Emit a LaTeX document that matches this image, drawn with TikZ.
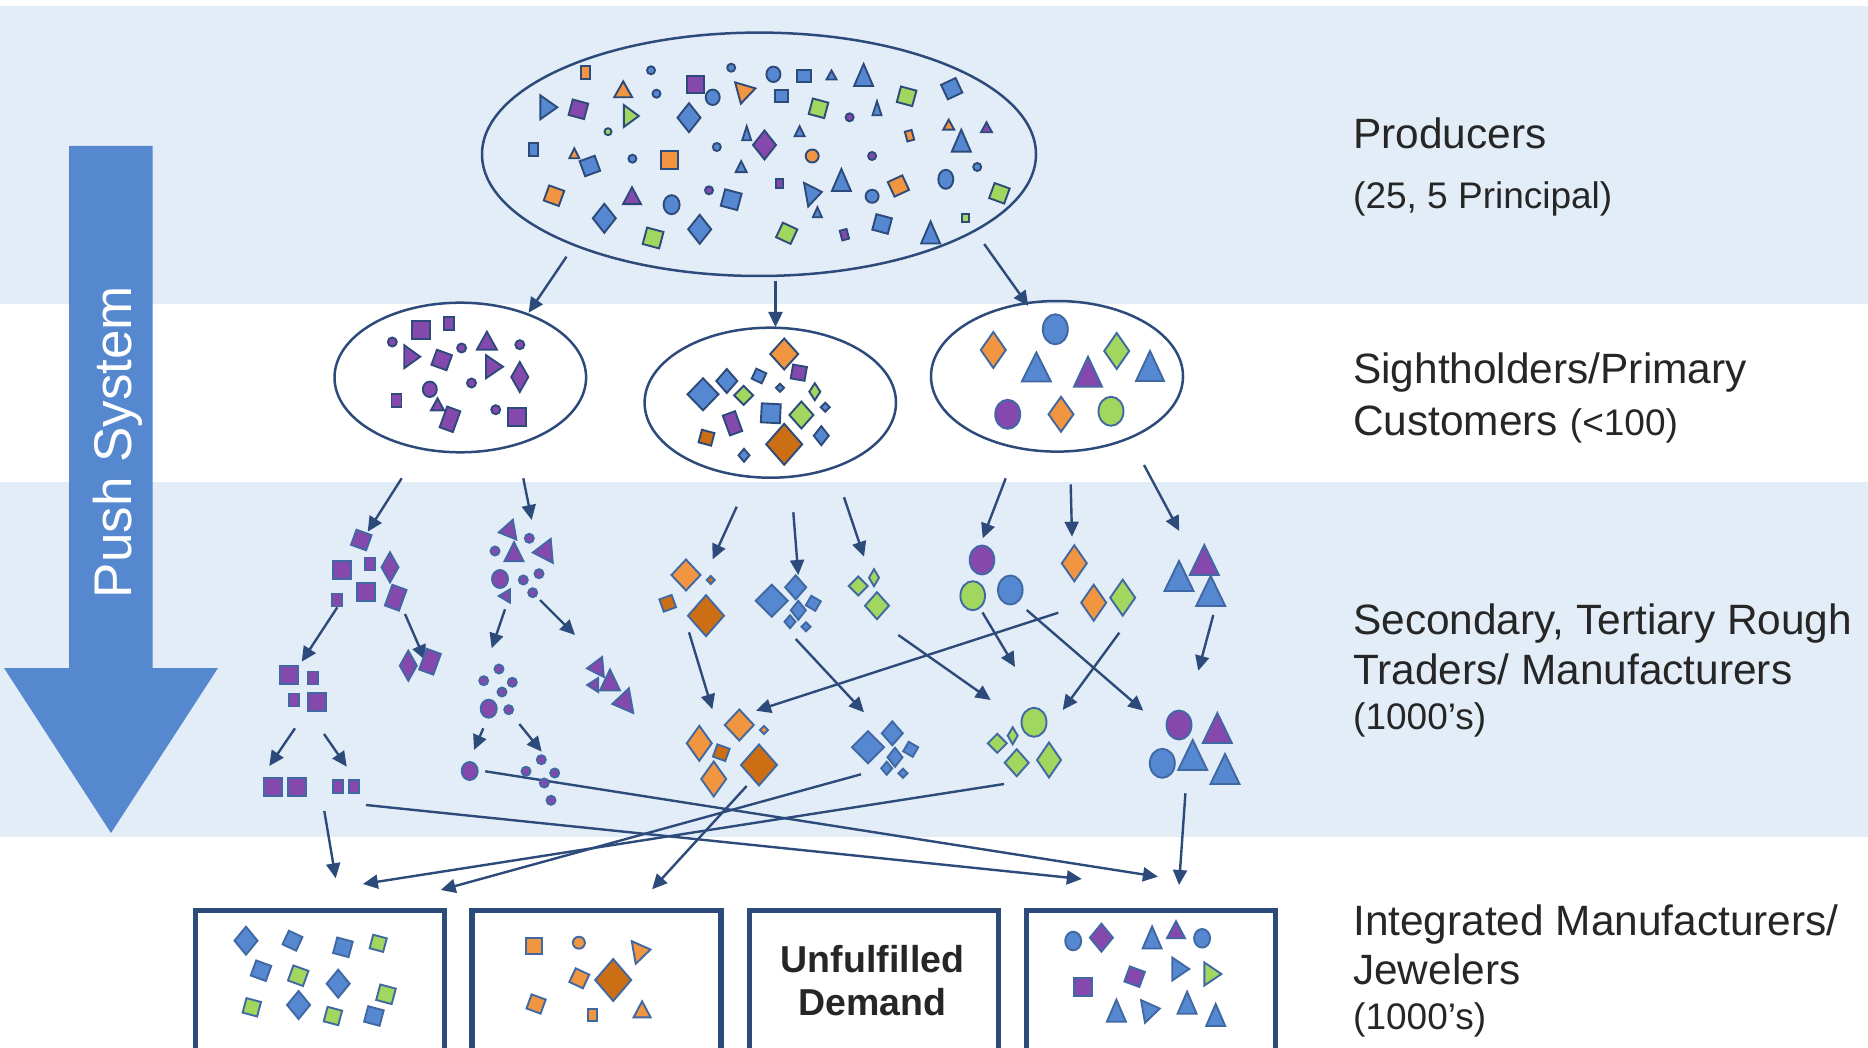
\documentclass[tikz,border=0pt]{standalone}
\usepackage{fontspec}
\setmainfont{Liberation Sans}
\usetikzlibrary{arrows.meta,shapes.geometric}
\definecolor{cNv}{HTML}{2D4B7A}
\definecolor{cOl}{HTML}{4068A2}
\definecolor{cB}{HTML}{5588D0}
\definecolor{cP}{HTML}{8548AD}
\definecolor{cO}{HTML}{F29541}
\definecolor{cD}{HTML}{CC6E14}
\definecolor{cG}{HTML}{A1D65F}
\definecolor{cBand}{HTML}{E3EDF8}
\definecolor{cPush}{HTML}{5588CF}
\definecolor{cTxt}{HTML}{262626}
\newcommand\shpSq[5]{\filldraw[shp,fill=#5,shift={(#1,#2)},rotate=#4] (-#3/2,-#3/2) -- (#3/2,-#3/2) -- (#3/2,#3/2) -- (-#3/2,#3/2) -- cycle;}
\newcommand\shpRc[6]{\filldraw[shp,fill=#6,shift={(#1,#2)},rotate=#5] (-#3/2,-#4/2) -- (#3/2,-#4/2) -- (#3/2,#4/2) -- (-#3/2,#4/2) -- cycle;}
\newcommand\shpDi[6]{\filldraw[shp,fill=#6,shift={(#1,#2)},rotate=#5] (0,-#4/2) -- (#3/2,0) -- (0,#4/2) -- (-#3/2,0) -- cycle;}
\newcommand\shpTr[6]{\filldraw[shp,fill=#6,shift={(#1,#2)},rotate=#5] (-#3/2,#4/2) -- (#3/2,#4/2) -- (0,-#4/2) -- cycle;}
\newcommand\shpCi[5]{\filldraw[shp,fill=#5] (#1,#2) ellipse [x radius=#3, y radius=#4];}
\newcommand\conn[3]{\coordinate (#1s) at (#2); \coordinate (#1e) at (#3); \draw[conn] (#1s) -- (#1e);}
\tikzset{
  shp/.style={draw=cOl, line width=1.9pt},
  conn/.style={draw=cNv, line width=2.4pt, -{Triangle[length=15pt,width=14pt]}},
  oval/.style={ellipse, draw=cNv, line width=2.5pt, inner sep=0pt},
  outbox/.style={rectangle, draw=cNv, line width=5.5pt, fill=white, inner sep=0pt, minimum width=249pt, minimum height=220pt},
  lbl/.style={anchor=base west, inner sep=0pt, text=cTxt, font=\fontsize{42.4}{50}\selectfont},
  lbls/.style={anchor=base west, inner sep=0pt, text=cTxt, font=\fontsize{37}{44}\selectfont},
}
\begin{document}
\begin{tikzpicture}[x=1pt,y=-1pt]
\useasboundingbox (0,0) rectangle (1868,1048);
\clip (0,0) rectangle (1868,1048);
\fill[white] (0,0) rectangle (1868,1048);
\fill[cBand] (0,6) rectangle (1868,304);
\fill[cBand] (0,482) rectangle (1868,837);

% push arrow
\fill[cPush] (69,146) -- (152.5,146) -- (152.5,668) -- (218,668) -- (111,833) -- (4,668) -- (69,668) -- cycle;
\node[rotate=90, anchor=base, inner sep=0pt, text=white, font=\fontsize{53}{60}\selectfont] (push) at (131,442) {Push System};

% ovals
\node[oval, minimum width=554pt, minimum height=243.4pt] (prod) at (759,154.3) {};
\node[oval, minimum width=251.6pt, minimum height=149.6pt] (sh1) at (460.3,377.5) {};
\node[oval, minimum width=251.4pt, minimum height=150pt] (sh2) at (770.3,402.7) {};
\node[oval, minimum width=252pt, minimum height=150.6pt] (sh3) at (1057,376.3) {};

% boxes
\node[outbox] (box1) at (319.75,1020.5) {};
\node[outbox] (box2) at (596.65,1020.5) {};
\node[outbox] (box3) at (873.75,1020.5) {};
\node[outbox] (box4) at (1150.9,1020.5) {};
\node[anchor=base, inner sep=0pt, text=cTxt, font=\bfseries\fontsize{37.5}{44}\selectfont] (unf1) at (872.5,972.5) {Unfulfilled};
\node[anchor=base, inner sep=0pt, text=cTxt, font=\bfseries\fontsize{37.5}{44}\selectfont] (unf2) at (872.5,1015) {Demand};

% labels
\node[lbl] (t1) at (1353,149) {Producers};
\node[lbls] (t2) at (1353,209) {(25, 5 Principal)};
\node[lbl] (t3) at (1353,384) {Sightholders/Primary};
\node[lbl] (t4) at (1353,435) {Customers {\fontsize{37}{44}\selectfont(<100)}};
\node[lbl] (t5) at (1353,634) {Secondary, Tertiary Rough};
\node[lbl] (t6) at (1353,684) {Traders/ Manufacturers};
\node[lbls] (t7) at (1353,729) {(1000's)};
\node[lbl] (t8) at (1353,935) {Integrated Manufacturers/};
\node[lbl] (t9) at (1353,984) {Jewelers};
\node[lbls] (t10) at (1353,1029) {(1000's)};

% connectors
\conn{c1}{566.5,256.7}{528.6,312.7}
\conn{c2}{775.5,281.5}{775.5,327}
\conn{c3}{984.2,244}{1028.3,306}
\conn{c4}{401.7,478.3}{367.7,531.7}
\conn{c5}{523.3,478.3}{531.7,520}
\conn{c6}{736.7,506.7}{712.7,559.3}
\conn{c7}{793.3,512.3}{798.3,575}
\conn{c8}{844,497.3}{864,556.7}
\conn{c9}{1005.7,478.3}{982.7,538.3}
\conn{c10}{1070.7,484.3}{1072,536.7}
\conn{c11}{1144,465}{1179.3,531}
\conn{c12}{337.3,607.3}{301.7,661.7}
\conn{c13}{405,614}{425,660}
\conn{c14}{295,728.3}{269.3,766}
\conn{c15}{324,734}{346.7,766.7}
\conn{c16}{505,609.3}{491.7,648.3}
\conn{c17}{540,600}{575,635}
\conn{c18}{483.3,728.3}{474,750}
\conn{c19}{519.3,724}{541.7,751.7}
\conn{c20}{689,632.3}{712.3,709.3}
\conn{c21}{795.7,639}{864,712.3}
\conn{c22}{898.3,635}{990.7,700}
\conn{c23}{1058.3,612.7}{756,710.7}
\conn{c24}{982.5,612.5}{1015,667}
\conn{c25}{1026.7,610}{1143.3,710.7}
\conn{c26}{1119.3,632.7}{1062.7,710}
\conn{c27}{1213.3,615}{1198.3,670.7}
\conn{c28}{324.3,811}{335.7,878.3}
\conn{c29}{1004,784}{362.9,884}
\conn{c30}{861,774.3}{440.7,890}
\conn{c31}{746.7,786}{652.1,889.3}
\conn{c32}{366,805}{1081.8,879}
\conn{c33}{485.3,771.3}{1157.9,876.7}
\conn{c34}{1185.4,793.3}{1179,885}

% producers shapes
\begin{scope}[shp/.style={draw=cNv, line width=1.9pt}]
\shpRc{585.4}{72.7}{9}{13}{0}{cO}
\shpCi{651}{70.3}{4}{4}{cB}
\shpCi{731.2}{67.7}{4}{4}{cB}
\shpCi{773.4}{74.3}{7}{7.7}{cB}
\shpRc{803.7}{75.7}{14}{12}{0}{cB}
\shpTr{831.5}{75}{10}{9}{0}{cB}
\shpTr{863.6}{75}{19}{22}{0}{cB}
\shpTr{623.2}{89.3}{18}{16}{0}{cO}
\shpCi{656.5}{93.7}{4}{4}{cB}
\shpSq{695.7}{84.7}{17}{0}{cP}
\shpCi{712.7}{97.3}{7}{7.7}{cB}
\shpTr{746.7}{90.7}{22}{18}{-75}{cO}
\shpRc{781.9}{95.7}{13}{12}{0}{cB}
\shpSq{906.6}{96.3}{16}{-15}{cG}
\shpSq{951.7}{88.7}{16}{25}{cB}
\shpTr{548.8}{107.3}{24}{17}{-90}{cB}
\shpSq{578.4}{109.3}{16}{-15}{cP}
\shpTr{631.3}{116}{22}{15}{-90}{cG}
\shpDi{689}{117.7}{23}{29}{0}{cB}
\shpSq{818.5}{108.3}{16}{-15}{cG}
\shpCi{849.6}{117.3}{4}{4}{cP}
\shpTr{877}{108.3}{9}{14}{0}{cB}
\shpCi{608}{131.7}{3.5}{3.5}{cG}
\shpTr{948.7}{124.7}{11}{10}{0}{cO}
\shpTr{986.5}{127.3}{11}{10}{0}{cP}
\shpRc{533.3}{149.7}{9}{13}{0}{cB}
\shpTr{574.3}{153.3}{10}{10}{0}{cO}
\shpSq{589.9}{166}{16}{20}{cB}
\shpCi{632.4}{158.7}{4}{4}{cB}
\shpRc{669.8}{160.3}{17}{18}{0}{cO}
\shpCi{716.8}{147}{4}{4}{cB}
\shpTr{746.7}{133.3}{9}{14}{0}{cB}
\shpDi{764.5}{145}{23}{29}{0}{cP}
\shpTr{799.6}{131.3}{10}{10}{0}{cB}
\shpRc{909.5}{135.7}{7}{10}{15}{cO}
\shpTr{961.3}{140.7}{19}{22}{0}{cB}
\shpTr{741.2}{166.7}{11}{11}{0}{cB}
\shpCi{812.2}{156}{6.5}{6.5}{cO}
\shpCi{872.1}{156}{4}{4}{cP}
\shpCi{977.2}{167}{4}{4}{cB}
\shpSq{554}{195.7}{16}{-20}{cO}
\shpTr{632}{195.7}{18}{17}{0}{cP}
\shpCi{671.6}{204.7}{8}{9.5}{cB}
\shpCi{709}{190.3}{4}{4}{cP}
\shpSq{731.2}{199.7}{17}{-15}{cB}
\shpRc{779.3}{183.7}{7}{9}{0}{cP}
\shpTr{814}{193.3}{24}{16}{-80}{cB}
\shpTr{841.4}{180}{19}{22}{0}{cB}
\shpCi{872.1}{196.3}{6.5}{6.5}{cB}
\shpSq{898.4}{186}{16}{25}{cO}
\shpCi{945.8}{179.3}{7.5}{9.5}{cB}
\shpSq{999.4}{193.3}{16}{-20}{cG}
\shpDi{604.3}{218.3}{23}{29}{0}{cB}
\shpSq{653.1}{238}{17}{-15}{cG}
\shpDi{699.7}{229.3}{23}{29}{0}{cB}
\shpSq{786.7}{233.3}{16}{-25}{cG}
\shpTr{817.4}{212.3}{9}{10}{0}{cB}
\shpRc{844.4}{234.7}{7}{10}{15}{cP}
\shpSq{882.1}{224}{16}{-15}{cB}
\shpTr{930.6}{232.5}{19}{22}{0}{cB}
\shpRc{965.4}{218}{7}{8}{0}{cG}

% sightholder 1
\shpSq{420.6}{330}{18}{0}{cP}
\shpRc{449}{323.7}{10}{13}{0}{cP}
\shpCi{392.3}{342}{4.5}{4.5}{cP}
\shpTr{412.2}{356.7}{23}{16}{-90}{cP}
\shpSq{441.7}{360}{16}{-20}{cP}
\shpCi{461.6}{348}{4.5}{4.5}{cP}
\shpTr{486.9}{340.7}{20}{18}{0}{cP}
\shpCi{519.8}{344.7}{4.5}{4.5}{cP}
\shpTr{494.5}{366.7}{23}{17}{-90}{cP}
\shpDi{519.8}{377}{17}{30}{0}{cP}
\shpCi{429.8}{389.3}{7}{7.7}{cP}
\shpCi{471.5}{383}{4.5}{4.5}{cP}
\shpRc{396.5}{400.7}{10}{13}{0}{cP}
\shpTr{437.5}{404.3}{13}{12}{0}{cP}
\shpRc{450}{419.3}{14}{22}{-20}{cP}
\shpCi{495.7}{409.7}{4.5}{4.5}{cP}
\shpSq{516.7}{416.7}{18}{0}{cP}

% sightholder 2
\shpDi{784.2}{354}{28}{31}{0}{cO}
\shpSq{798.8}{372.7}{14}{-10}{cP}
\shpDi{726.8}{381}{21}{24}{0}{cB}
\shpSq{759}{376}{11}{-25}{cB}
\shpDi{703}{394.3}{31}{32}{0}{cB}
\shpDi{743.6}{395.3}{19}{19}{0}{cG}
\shpDi{780}{387.7}{8}{8}{0}{cB}
\shpDi{814.8}{391.7}{11}{17}{0}{cG}
\shpSq{770.8}{413.3}{19}{-3}{cB}
\shpDi{801.4}{415}{24}{27}{0}{cG}
\shpDi{825.2}{407.3}{9}{9}{0}{cB}
\shpRc{732.5}{423.3}{13}{21}{20}{cP}
\shpSq{706.5}{437.7}{13}{-15}{cD}
\shpDi{784.2}{444.3}{36}{41}{0}{cD}
\shpDi{821.3}{435.7}{15}{19}{0}{cB}
\shpDi{744}{455.3}{11}{13}{0}{cB}
\end{scope}

% sightholder 3
\shpDi{993.3}{350}{25}{36}{0}{cO}
\shpCi{1055.3}{329.3}{12.5}{15}{cB}
\shpDi{1116.7}{351}{25}{36}{0}{cG}
\shpTr{1036.3}{367}{29}{29}{0}{cB}
\shpTr{1088}{371.7}{28}{30}{0}{cP}
\shpTr{1150}{366}{28}{30}{0}{cB}
\shpCi{1007.7}{414.3}{12.5}{14.5}{cP}
\shpDi{1061}{414.3}{25}{35}{0}{cO}
\shpCi{1111}{411.3}{12.5}{14.5}{cG}

% left purple branch
\shpSq{361.3}{540}{16}{-20}{cP}
\shpSq{341.7}{570}{18}{0}{cP}
\shpRc{370}{564}{10}{13}{0}{cP}
\shpDi{390}{567.3}{17}{30}{0}{cP}
\shpSq{366}{591.7}{18}{0}{cP}
\shpRc{337.3}{600}{10}{13}{0}{cP}
\shpRc{395.7}{597.7}{15}{22}{-20}{cP}
\shpDi{408.3}{665.7}{17}{30}{0}{cP}
\shpRc{430}{661.7}{15}{22}{-20}{cP}
\shpSq{289}{675}{18}{0}{cP}
\shpRc{313}{678}{10}{13}{0}{cP}
\shpRc{293.7}{700}{10}{13}{0}{cP}
\shpSq{316.7}{701.7}{18}{0}{cP}
\shpSq{273}{786.7}{18}{0}{cP}
\shpSq{296.7}{786.7}{18}{0}{cP}
\shpRc{338}{786.7}{10}{13}{0}{cP}
\shpRc{353.7}{786.7}{10}{13}{0}{cP}
\shpTr{506.7}{531}{20}{16}{100}{cP}
\shpCi{529.3}{538.3}{4.5}{4.5}{cP}
\shpCi{495}{551}{4.5}{4.5}{cP}
\shpTr{514}{551.7}{19}{19}{0}{cP}
\shpTr{542.3}{551.7}{24}{19}{95}{cP}
\shpCi{500}{579}{8}{9}{cP}
\shpCi{523.3}{580}{4.5}{4.5}{cP}
\shpCi{539}{573.7}{4.5}{4.5}{cP}
\shpTr{504.3}{596}{13}{11}{90}{cP}
\shpCi{532.7}{592.7}{4.5}{4.5}{cP}
\shpCi{499}{669}{4.5}{4.5}{cP}
\shpCi{483.7}{680.7}{4.5}{4.5}{cP}
\shpCi{512.3}{682.3}{4.5}{4.5}{cP}
\shpCi{502}{692}{4.5}{4.5}{cP}
\shpCi{488.7}{708.7}{8}{9}{cP}
\shpCi{508.7}{709.7}{4.5}{4.5}{cP}
\shpCi{469.7}{771}{8}{9}{cP}
\shpCi{541.3}{759.7}{4.5}{4.5}{cP}
\shpCi{526}{771.3}{4.5}{4.5}{cP}
\shpCi{554.7}{773}{4.5}{4.5}{cP}
\shpCi{544.3}{783}{4.5}{4.5}{cP}
\shpCi{551}{800.3}{4.5}{4.5}{cP}
\shpTr{595}{667.7}{20}{16}{95}{cP}
\shpTr{610}{680}{20}{21}{0}{cP}
\shpTr{592.7}{685}{14}{11}{90}{cP}
\shpTr{621.7}{702.3}{25}{19}{100}{cP}

% middle clusters
\shpDi{686}{575}{29}{31}{0}{cO}
\shpDi{710.7}{580}{8}{8}{0}{cD}
\shpSq{667.7}{603.3}{13}{20}{cD}
\shpDi{706}{615.7}{36}{41}{0}{cD}
\shpDi{771.7}{600.7}{32}{32}{0}{cB}
\shpDi{795.7}{587.3}{21}{24}{0}{cB}
\shpSq{813.3}{603.3}{11}{-30}{cB}
\shpDi{798.3}{610.3}{15}{19}{0}{cB}
\shpDi{790}{621.7}{11}{13}{0}{cB}
\shpDi{806}{626.7}{9}{9}{0}{cB}
\shpDi{858.3}{586}{19}{19}{0}{cG}
\shpDi{874}{577.7}{10}{17}{0}{cG}
\shpDi{877}{605.7}{24}{27}{0}{cG}
\shpCi{982}{560}{12.3}{14.5}{cP}
\shpCi{972.7}{595.7}{12.3}{14.5}{cG}
\shpCi{1010.3}{590}{12.3}{14.5}{cB}
\shpDi{739.3}{725}{29}{31}{0}{cO}
\shpDi{764}{730}{8}{8}{0}{cO}
\shpDi{699.3}{743.3}{25}{35}{0}{cO}
\shpSq{721.3}{752.7}{13}{-20}{cD}
\shpDi{759}{765}{36}{41}{0}{cD}
\shpDi{713.7}{779}{25}{35}{0}{cO}
\shpDi{868}{747.3}{32}{32}{0}{cB}
\shpDi{892.3}{733.3}{21}{24}{0}{cB}
\shpSq{910.7}{749.3}{11}{-30}{cB}
\shpDi{895}{757.3}{15}{19}{0}{cB}
\shpDi{886.7}{768.3}{11}{13}{0}{cB}
\shpDi{903}{773.3}{9}{9}{0}{cB}
\shpCi{1034}{722.3}{12.5}{14.5}{cG}
\shpDi{997.3}{743.3}{19}{19}{0}{cG}
\shpDi{1012.7}{735.7}{10}{17}{0}{cG}
\shpDi{1016.7}{762.7}{24}{27}{0}{cG}
\shpDi{1049}{760}{24}{35}{0}{cG}
\shpDi{1074.3}{563.3}{25}{36}{0}{cO}
\shpDi{1093.7}{602.7}{25}{36}{0}{cO}
\shpDi{1122.7}{597.7}{25}{36}{0}{cG}
\shpTr{1204.3}{560}{29}{30}{0}{cP}
\shpTr{1179}{576}{29}{30}{0}{cB}
\shpTr{1210.7}{591}{29}{30}{0}{cB}
\shpCi{1179}{725}{12.5}{14.5}{cP}
\shpTr{1217.3}{728}{29}{30}{0}{cP}
\shpCi{1162.3}{763.3}{12.5}{14.5}{cB}
\shpTr{1192.7}{755}{29}{30}{0}{cB}
\shpTr{1225}{769}{29}{30}{0}{cB}

% box 1
\shpDi{246}{940.7}{23}{28}{0}{cB}
\shpSq{292.5}{940.7}{15}{-25}{cB}
\shpSq{342.9}{947.3}{16}{-15}{cB}
\shpSq{378.2}{943.3}{14}{-15}{cG}
\shpSq{261}{970.7}{16}{-20}{cB}
\shpSq{298.2}{975.7}{16}{-20}{cG}
\shpDi{338.2}{983.7}{23}{28}{0}{cB}
\shpSq{386}{994.3}{16}{-15}{cG}
\shpSq{251.8}{1007.3}{15}{-15}{cG}
\shpDi{298.6}{1005}{23}{28}{0}{cB}
\shpSq{332.9}{1016}{15}{-15}{cG}
\shpSq{373.9}{1016}{16}{-15}{cB}
% box 2
\shpSq{533.6}{945.7}{16}{0}{cO}
\shpCi{578.9}{942.7}{6}{6}{cO}
\shpTr{642.1}{951}{23}{17}{-80}{cO}
\shpSq{579.3}{978.3}{15}{-25}{cO}
\shpDi{613.2}{980}{36}{42}{0}{cD}
\shpSq{536.1}{1004}{15}{-20}{cO}
\shpRc{592.5}{1015}{9}{12}{0}{cO}
\shpTr{642.1}{1009.3}{17}{16}{0}{cO}
% box 4
\shpCi{1073.2}{941}{8}{9.3}{cB}
\shpDi{1101.4}{937.7}{23}{28}{0}{cP}
\shpTr{1152.1}{937.5}{19}{22}{0}{cB}
\shpTr{1176}{929.7}{18}{17}{0}{cP}
\shpCi{1202.1}{938.3}{8}{9.3}{cB}
\shpSq{1082.9}{987.3}{18}{0}{cP}
\shpSq{1134.6}{976.7}{16}{-20}{cP}
\shpTr{1180.7}{969}{23}{17}{-90}{cB}
\shpTr{1212.9}{974}{23}{17}{-90}{cG}
\shpTr{1116.4}{1010.7}{19}{22}{0}{cB}
\shpTr{1151.4}{1010}{23}{17}{-80}{cB}
\shpTr{1187.1}{1002.7}{19}{22}{0}{cB}
\shpTr{1215.7}{1015}{19}{22}{0}{cB}
\end{tikzpicture}
\end{document}
